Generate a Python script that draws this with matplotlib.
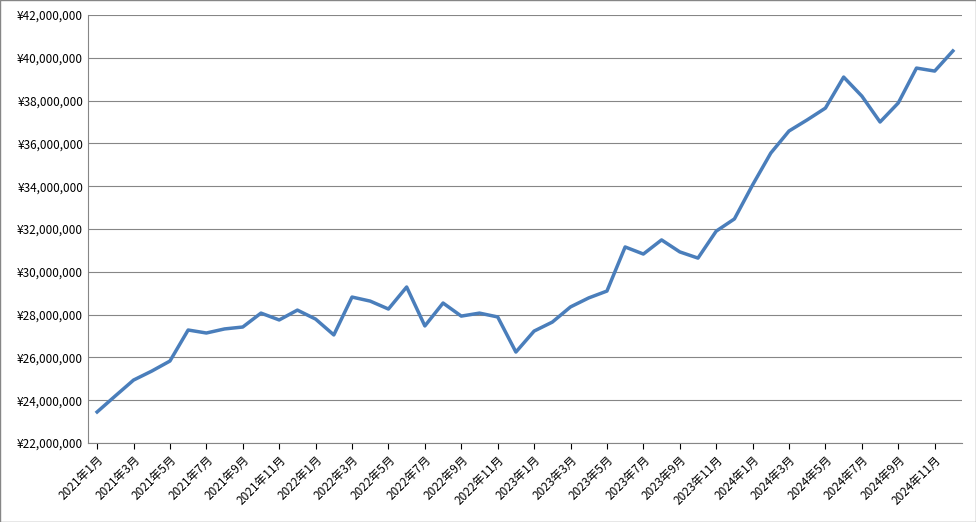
import matplotlib
matplotlib.use("Agg")
import matplotlib.pyplot as plt
from matplotlib.ticker import FuncFormatter

plt.rcParams['font.family'] = ['Noto Sans CJK JP', 'DejaVu Sans']

months = [f"{y}年{m}月" for y in range(2021, 2025) for m in range(1, 13)]
values = [23.45, 24.2, 24.94, 25.36, 25.83, 27.28, 27.14, 27.33, 27.42, 28.07, 27.75, 28.21,
          27.79, 27.05, 28.82, 28.63, 28.26, 29.29, 27.47, 28.54, 27.93, 28.07, 27.89, 26.25,
          27.23, 27.65, 28.36, 28.78, 29.1, 31.16, 30.83, 31.49, 30.93, 30.64, 31.9, 32.47,
          34.06, 35.55, 36.58, 37.1, 37.65, 39.1, 38.21, 37.0, 37.89, 39.52, 39.38, 40.32]
values = [v * 1e6 for v in values]

fig = plt.figure(figsize=(9.76, 5.22), dpi=100)
ax = fig.add_axes([88/976, 1-443/522, (962-88)/976, (443-15)/522])
x = list(range(len(values)))
ax.plot(x, values, color='#4a7ebb', lw=2.5)
ax.set_ylim(22e6, 42e6)
ax.set_yticks([22e6 + 2e6*i for i in range(11)])
ax.yaxis.set_major_formatter(FuncFormatter(lambda v, p: f"¥{int(v):,}"))
ax.set_xlim(-0.5, len(values)-0.5)
ax.set_xticks(x[::2])
ax.set_xticklabels(months[::2], rotation=45, ha='right', rotation_mode='anchor', fontsize=8.5)
ax.tick_params(axis='y', labelsize=8.5, length=0)
ax.tick_params(axis='x', length=4)
ax.grid(axis='y', color='#868686', lw=0.8)
ax.set_axisbelow(True)
for s in ['top', 'right']:
    ax.spines[s].set_visible(False)
ax.spines['left'].set_color('#868686')
ax.spines['bottom'].set_color('#868686')
fig.patches.append(plt.Rectangle((0, 0), 1, 1, transform=fig.transFigure, fill=False, ec='#868686', lw=1))
fig.savefig('out.png', dpi=100)
